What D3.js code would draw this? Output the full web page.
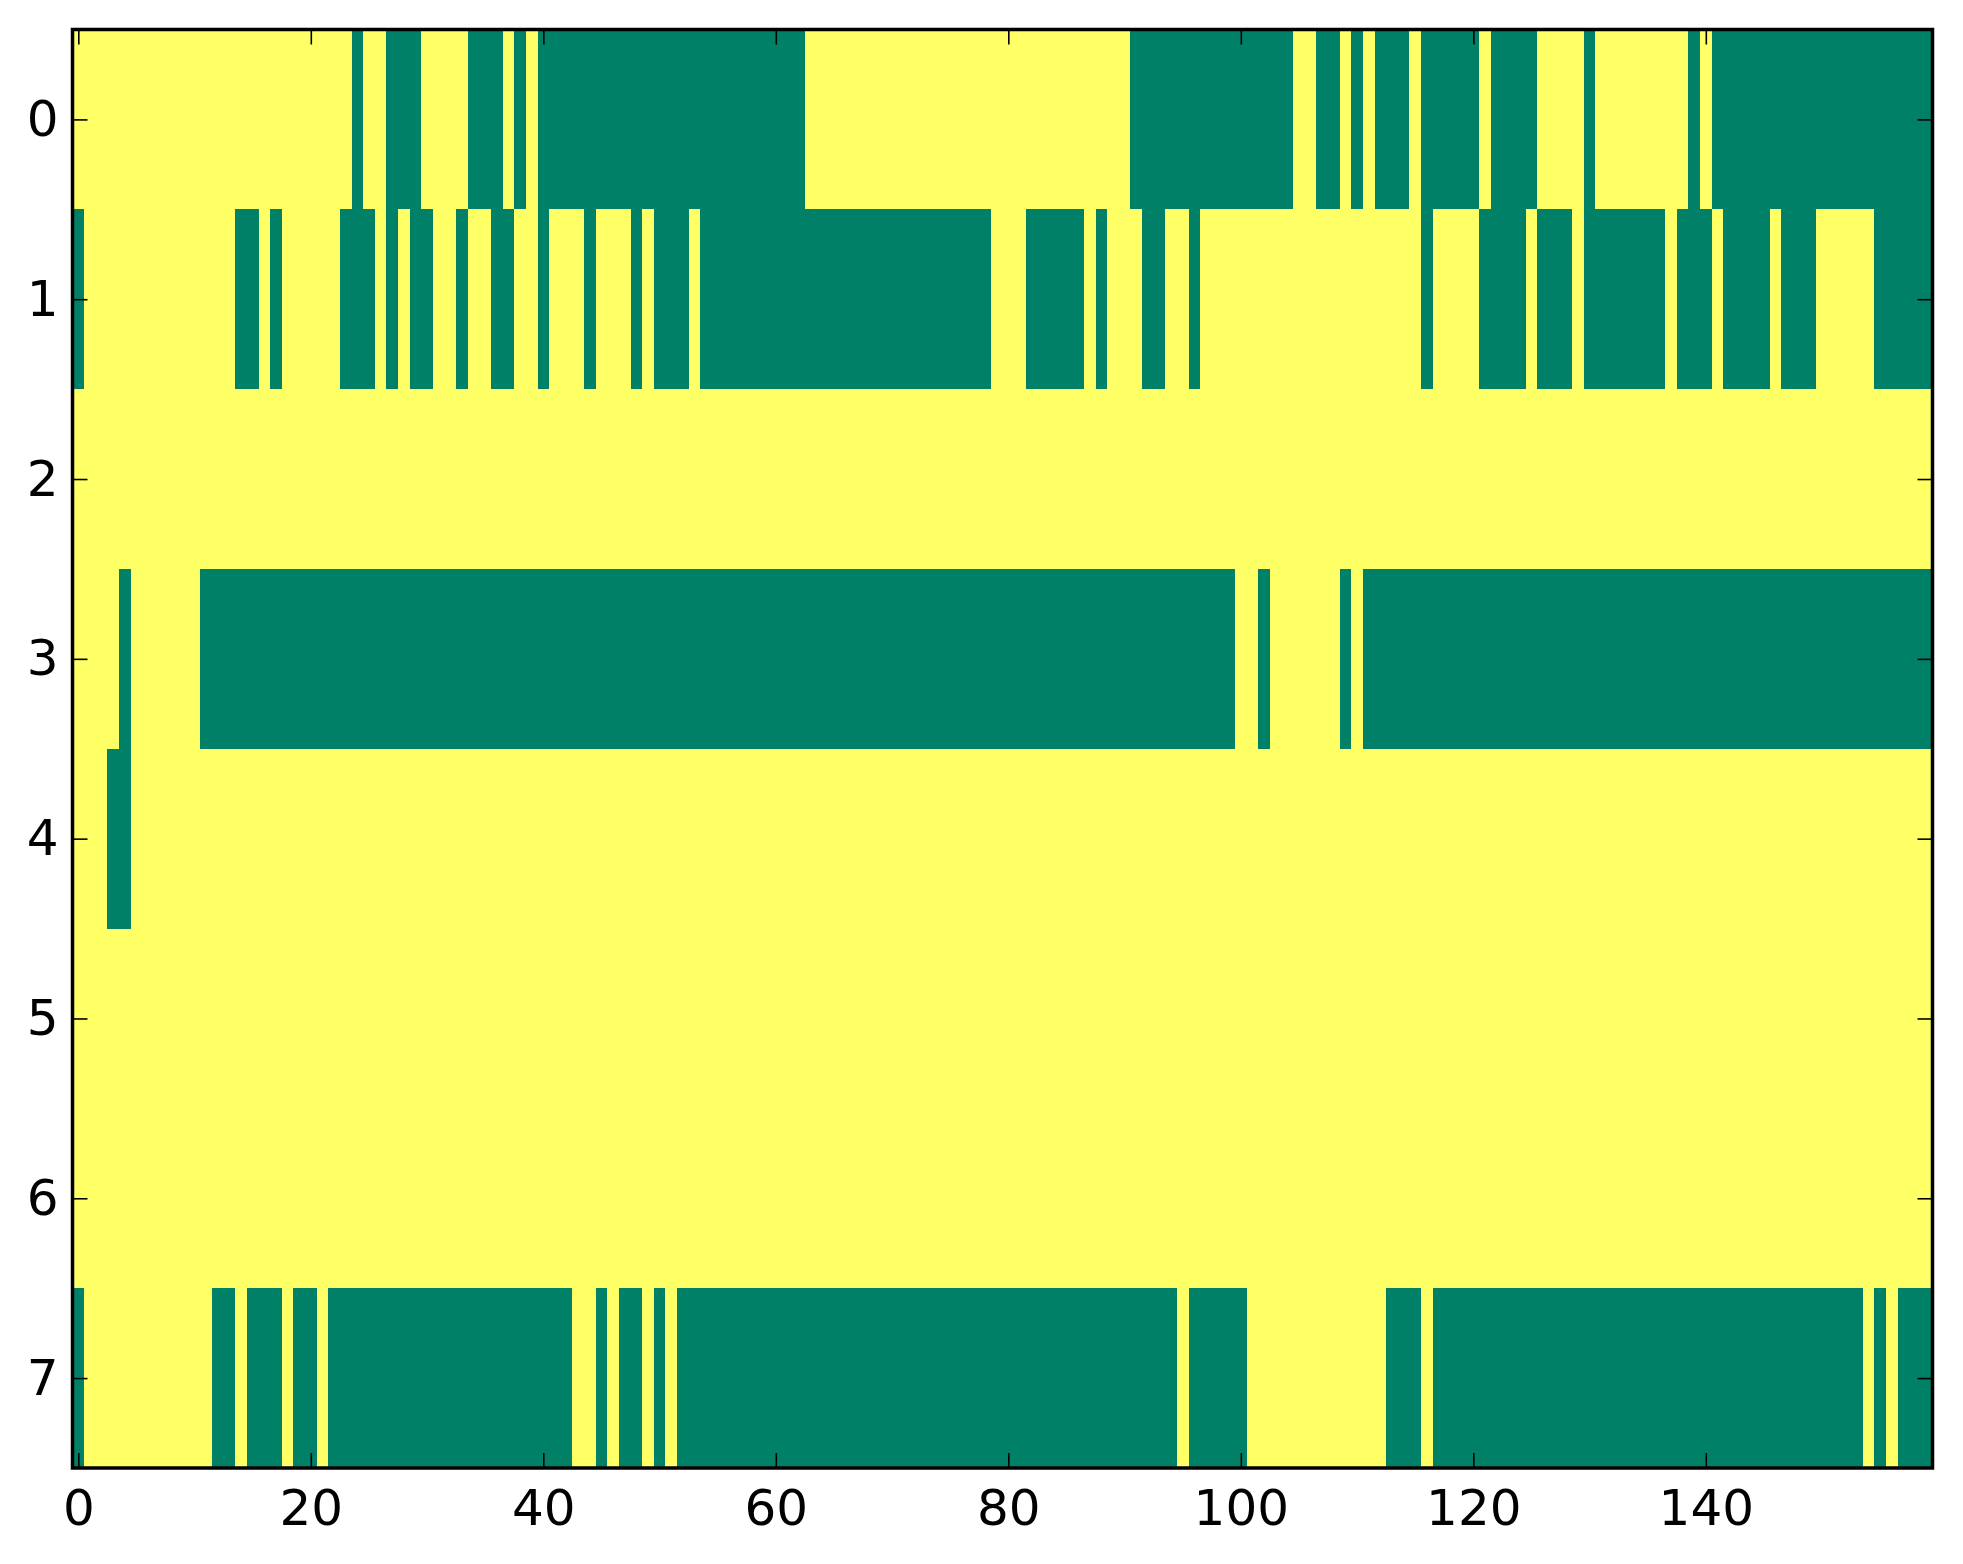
<!DOCTYPE html>
<html>
<head>
<meta charset="utf-8">
<script src="https://cdn.jsdelivr.net/npm/d3@7"></script>
<style>
    body { margin: 0; background: #fff; }
    .axis text { font-family: "DejaVu Sans", sans-serif; font-size: 50px; fill: #000; }
    .axis path { display: none; }
    .axis line { stroke: #000; stroke-width: 1.6px; }
</style>
</head>
<body>
<svg class="chart"></svg>
<script>
// surround code with an IIFE so nothing leaks to the global object
(function () {
    var width = 1963;
    var height = 1564;

    // image values, one string per row (1 = high / yellow, 0 = low / green), grouped by tens
    var row0 = '1111111111 1111111111 1111011000 1111000101 0000000000 0000000000 0001111111 1111111111 1111111111 1000000000 0000011001 0100010000 0100001111 0111111110 1000000000 0000000000';
    var row1 = '0111111111 1111001011 1110001010 0110110011 0111011101 0001000000 0000000000 0000000001 1100000101 1100110111 1111111111 1111110111 1000010001 0000000100 0100001000 1111100000';
    var row2 = '1111111111 1111111111 1111111111 1111111111 1111111111 1111111111 1111111111 1111111111 1111111111 1111111111 1111111111 1111111111 1111111111 1111111111 1111111111 1111111111';
    var row3 = '1111011111 1000000000 0000000000 0000000000 0000000000 0000000000 0000000000 0000000000 0000000000 0000000000 1101111110 1000000000 0000000000 0000000000 0000000000 0000000000';
    var row4 = '1110011111 1111111111 1111111111 1111111111 1111111111 1111111111 1111111111 1111111111 1111111111 1111111111 1111111111 1111111111 1111111111 1111111111 1111111111 1111111111';
    var row5 = '1111111111 1111111111 1111111111 1111111111 1111111111 1111111111 1111111111 1111111111 1111111111 1111111111 1111111111 1111111111 1111111111 1111111111 1111111111 1111111111';
    var row6 = '1111111111 1111111111 1111111111 1111111111 1111111111 1111111111 1111111111 1111111111 1111111111 1111111111 1111111111 1111111111 1111111111 1111111111 1111111111 1111111111';
    var row7 = '0111111111 1100100010 0100000000 0000000000 0001101001 0100000000 0000000000 0000000000 0000000000 0000010000 0111111111 1110001000 0000000000 0000000000 0000000000 0000101000';
    var rows = [row0, row1, row2, row3, row4, row5, row6, row7];

    // tick labels
    var xTicks = [0, 20, 40, 60, 80, 100, 120, 140];
    var yTicks = [0, 1, 2, 3, 4, 5, 6, 7];

    // 'summer' colormap end points
    var color = d3.scaleLinear().domain([0, 1]).range(['#008066', '#ffff66']);

    // turn the row strings into cells
    var cells = [];
    rows.forEach(function (row, r) {
        row.replace(/\s/g, '').split('').forEach(function (v, c) {
            cells.push({ row: r, col: c, value: +v });
        });
    });
    var nCols = rows[0].replace(/\s/g, '').length;

    var margin = { left: 72.5, right: width - 1932.5, top: 29.5, bottom: height - 1468 };

    var x = d3.scaleLinear()
        .domain([-0.5, nCols - 0.5])
        .range([margin.left, width - margin.right]);
    var y = d3.scaleLinear()
        .domain([-0.5, rows.length - 0.5])
        .range([margin.top, height - margin.bottom]);

    var svg = d3.select('.chart')
        .attr('width', width)
        .attr('height', height);

    // image cells
    svg.append('g')
        .attr('shape-rendering', 'crispEdges')
        .selectAll('rect')
        .data(cells)
        .enter().append('rect')
            .attr('x', function (d) { return x(d.col - 0.5); })
            .attr('y', function (d) { return y(d.row - 0.5); })
            .attr('width', function (d) { return x(d.col + 0.5) - x(d.col - 0.5); })
            .attr('height', function (d) { return y(d.row + 0.5) - y(d.row - 0.5); })
            .attr('fill', function (d) { return color(d.value); });

    // ticks point inward on all four sides
    var tickLen = 15;

    svg.append('g')
        .attr('class', 'axis')
        .attr('transform', 'translate(0,' + y.range()[1] + ')')
        .call(d3.axisBottom(x).tickValues(xTicks).tickSizeInner(-tickLen).tickSizeOuter(0).tickPadding(21.5));

    svg.append('g')
        .attr('class', 'axis')
        .attr('transform', 'translate(0,' + y.range()[0] + ')')
        .call(d3.axisTop(x).tickValues(xTicks).tickSizeInner(-tickLen).tickSizeOuter(0).tickFormat(''));

    svg.append('g')
        .attr('class', 'axis')
        .attr('transform', 'translate(' + x.range()[0] + ',0)')
        .call(d3.axisLeft(y).tickValues(yTicks).tickSizeInner(-tickLen).tickSizeOuter(0).tickPadding(14));

    svg.append('g')
        .attr('class', 'axis')
        .attr('transform', 'translate(' + x.range()[1] + ',0)')
        .call(d3.axisRight(y).tickValues(yTicks).tickSizeInner(-tickLen).tickSizeOuter(0).tickFormat(''));

    // frame
    svg.append('rect')
        .attr('x', x.range()[0])
        .attr('y', y.range()[0])
        .attr('width', x.range()[1] - x.range()[0])
        .attr('height', y.range()[1] - y.range()[0])
        .attr('fill', 'none')
        .attr('stroke', '#000')
        .attr('stroke-width', 3.5);
}());
</script>
</body>
</html>
